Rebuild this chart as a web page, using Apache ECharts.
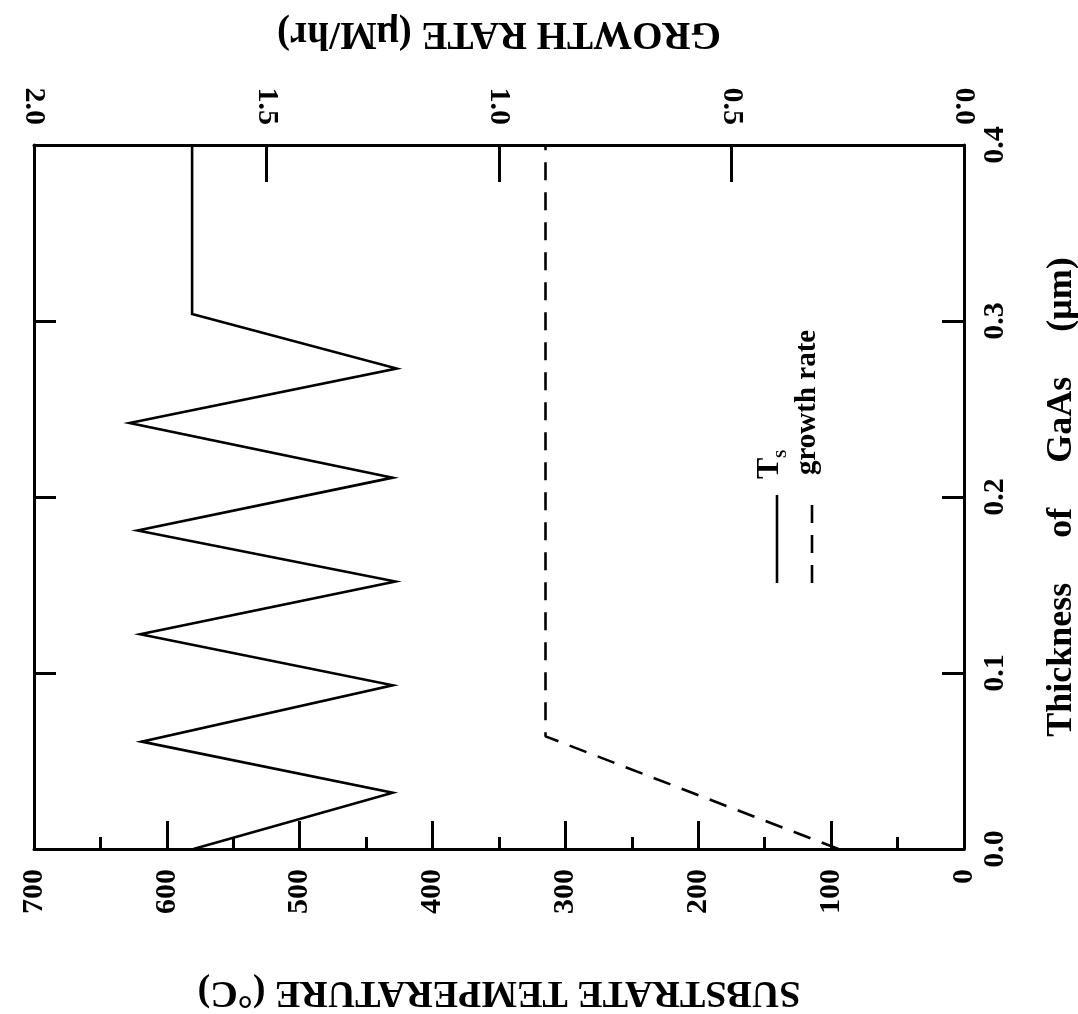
<!DOCTYPE html>
<html>
<head>
<meta charset="utf-8">
<script src="https://cdn.jsdelivr.net/npm/echarts@6/dist/echarts.min.js"></script>
<style>
  html, body { margin: 0; padding: 0; background: #fff; }
  #chart { width: 1078px; height: 1014px; }
</style>
</head>
<body>
<div id="chart"></div>
<script>
// Substrate temperature profile (solid) and growth rate (dashed) vs. GaAs thickness.
// The figure is laid out turned on its side: thickness runs upward on the right,
// temperature runs right-to-left along the bottom, growth rate along the top.
const tsThickness   = [0, 0.032, 0.061, 0.093, 0.122, 0.152, 0.181, 0.211, 0.242, 0.273, 0.304, 0.4];
const tsTemperature = [580, 430, 619, 430, 620, 428, 622, 430, 628, 427, 581, 581];

const rateThickness = [0, 0.064, 0.4];
const growthRate    = [0.27, 0.9, 0.9];

const thicknessRange   = [0, 0.4];
const temperatureRange = [0, 700];
const growthRange      = [0, 2.0];

const FONT = 'Liberation Serif';
const INK = '#000';

const tsData = tsTemperature.map((t, i) => [t, tsThickness[i]]);
const rateData = growthRate.map((g, i) => [g, rateThickness[i]]);

const labelStyle = {
  rotate: 90,
  fontFamily: FONT,
  fontWeight: 'bold',
  fontSize: 30,
  color: INK
};
const frameLine = { show: true, onZero: false, lineStyle: { color: INK, width: 3 } };

const chart = echarts.init(document.getElementById('chart'), null, { renderer: 'canvas' });

chart.setOption({
  animation: false,
  backgroundColor: '#fff',
  grid: { left: 34, right: 114, top: 145, bottom: 165, containLabel: false, outerBoundsMode: 'none' },
  xAxis: [
    {
      // substrate temperature, bottom edge, 0 at the right
      type: 'value',
      position: 'bottom',
      inverse: true,
      min: temperatureRange[0],
      max: temperatureRange[1],
      interval: 100,
      axisLine: frameLine,
      axisTick: { show: true, inside: true, length: 28, lineStyle: { color: INK, width: 3 } },
      minorTick: { show: true, splitNumber: 2, length: 12, lineStyle: { color: INK, width: 3 } },
      splitLine: { show: false },
      axisLabel: Object.assign({}, labelStyle, { margin: 20, formatter: v => String(v) }),
      name: 'SUBSTRATE TEMPERATURE (°C)',
      nameLocation: 'middle',
      nameRotate: 180,
      nameGap: 124,
      nameTextStyle: { fontFamily: FONT, fontWeight: 'bold', fontSize: 38, color: INK }
    },
    {
      // growth rate, top edge, 0 at the right
      type: 'value',
      position: 'top',
      inverse: true,
      min: growthRange[0],
      max: growthRange[1],
      interval: 0.5,
      axisLine: frameLine,
      axisTick: { show: true, inside: true, length: 37, lineStyle: { color: INK, width: 3 } },
      splitLine: { show: false },
      axisLabel: Object.assign({}, labelStyle, { margin: 20, formatter: v => v.toFixed(1) }),
      name: 'GROWTH RATE (μM/hr)',
      nameLocation: 'middle',
      nameRotate: 180,
      nameGap: 92,
      nameTextStyle: { fontFamily: FONT, fontWeight: 'bold', fontSize: 39, color: INK }
    }
  ],
  yAxis: [
    {
      // thickness, right edge
      type: 'value',
      position: 'right',
      min: thicknessRange[0],
      max: thicknessRange[1],
      interval: 0.1,
      axisLine: frameLine,
      axisTick: { show: true, inside: true, length: 22, lineStyle: { color: INK, width: 3 } },
      splitLine: { show: false },
      axisLabel: Object.assign({}, labelStyle, { margin: 16, formatter: v => v.toFixed(1) }),
      name: 'Thickness     of     GaAs     (μm)',
      nameLocation: 'middle',
      nameRotate: 90,
      nameGap: 80,
      nameTextStyle: { fontFamily: FONT, fontWeight: 'bold', fontSize: 36, color: INK }
    },
    {
      // same thickness scale on the left edge, ticks only
      type: 'value',
      position: 'left',
      min: thicknessRange[0],
      max: thicknessRange[1],
      interval: 0.1,
      axisLine: frameLine,
      axisTick: { show: true, inside: true, length: 22, lineStyle: { color: INK, width: 3 } },
      splitLine: { show: false },
      axisLabel: { show: false }
    }
  ],
  series: [
    {
      name: 'Ts',
      type: 'line',
      xAxisIndex: 0,
      yAxisIndex: 0,
      data: tsData,
      symbol: 'none',
      lineStyle: { color: INK, width: 2.6, join: 'miter' },
      z: 3
    },
    {
      name: 'growth rate',
      type: 'line',
      xAxisIndex: 1,
      yAxisIndex: 0,
      data: rateData,
      symbol: 'none',
      lineStyle: { color: INK, width: 2.6, type: [18, 12] },
      z: 3
    }
  ],
  graphic: [
    {
      // key, turned with the rest of the figure
      type: 'group',
      x: 777,
      y: 583,
      rotation: Math.PI / 2,
      children: [
        { type: 'line', shape: { x1: 0, y1: 0, x2: 88, y2: 0 }, style: { stroke: INK, lineWidth: 2.6 } },
        { type: 'text', x: 104, y: 9, style: { text: 'T', font: 'bold 32px "Liberation Serif"', fill: INK, textVerticalAlign: 'bottom' } },
        { type: 'text', x: 125, y: 13, style: { text: 'S', font: 'bold 15px "Liberation Serif"', fill: INK, textVerticalAlign: 'bottom' } },
        { type: 'line', shape: { x1: 0, y1: 35, x2: 88, y2: 35 }, style: { stroke: INK, lineWidth: 2.6, lineDash: [18, 12] } },
        { type: 'text', x: 108, y: 45, style: { text: 'growth rate', font: 'bold 29px "Liberation Serif"', fill: INK, textVerticalAlign: 'bottom' } }
      ]
    }
  ]
});
</script>
</body>
</html>
